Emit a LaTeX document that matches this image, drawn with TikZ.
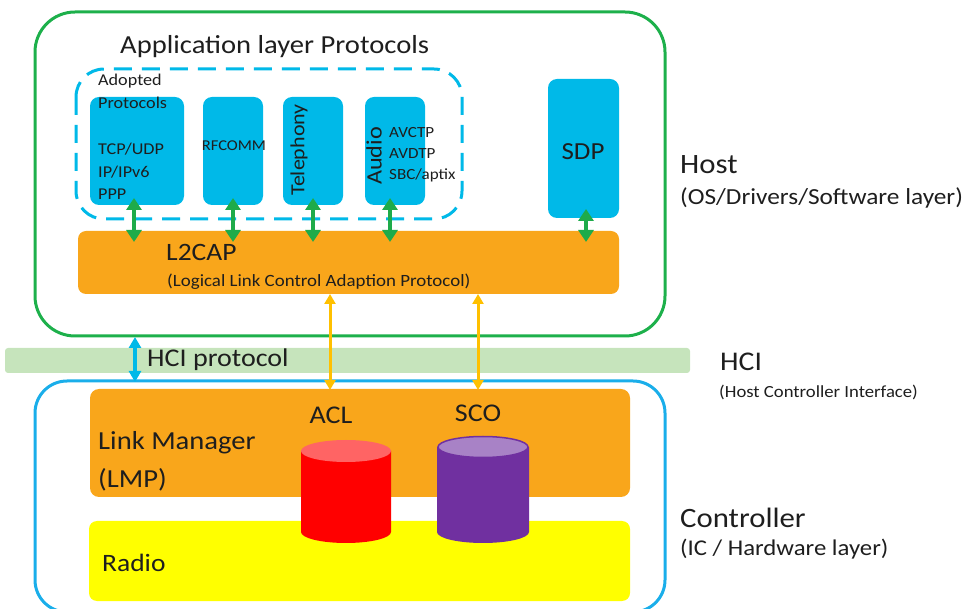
\documentclass[tikz,border=0pt]{standalone}
\usepackage{fontspec}
\setmainfont[FakeStretch=1.1]{Carlito}
\usetikzlibrary{arrows.meta}
\definecolor{hostgreen}{HTML}{1DB04B}
\definecolor{boxcyan}{HTML}{00B9E8}
\definecolor{ctrlblue}{HTML}{1AAEEA}
\definecolor{l2orange}{HTML}{F9A61B}
\definecolor{arrgreen}{HTML}{1EAB4A}
\definecolor{arryellow}{HTML}{FFC000}
\definecolor{hciband}{HTML}{C6E4BC}
\definecolor{radioyellow}{HTML}{FFFF00}
\definecolor{aclred}{HTML}{FF0000}
\definecolor{acltop}{HTML}{FF6464}
\definecolor{scopurple}{HTML}{7030A0}
\definecolor{scotop}{HTML}{A882C6}
\definecolor{txt}{HTML}{1E1E1E}
\tikzset{
  fs/.style={font=\fontsize{#1}{#1}\selectfont},
  protobox/.style={fill=boxcyan, rounded corners=9pt, draw=none},
  garrow/.style={draw=arrgreen, line width=3.5pt, {Triangle[width=15pt,length=12pt]}-{Triangle[width=15pt,length=12pt]}},
  yarrow/.style={draw=arryellow, line width=3pt, {Triangle[width=11pt,length=10pt]}-{Triangle[width=11pt,length=10pt]}},
  barrow/.style={draw=boxcyan, line width=3.2pt, {Triangle[width=12pt,length=11pt]}-{Triangle[width=12pt,length=11pt]}},
  lbl/.style={text=txt, inner sep=0pt},
}
\begin{document}
\begin{tikzpicture}[x=1pt,y=-1pt]
\useasboundingbox (0,0) rectangle (970,609);
% Host box
\draw[hostgreen, line width=3pt, rounded corners=40pt] (35,12) rectangle (665,336);
\node[lbl, fs=26, anchor=west] (apptitle) at (120,47) {Application layer Protocols};
% dashed group
\draw[boxcyan, line width=3pt, rounded corners=28pt, dash pattern=on 18pt off 10pt] (76,69) rectangle (462,219);
% proto boxes
\path[protobox] (90,97) rectangle (184,205);
\path[protobox] (203,97) rectangle (263,205);
\path[protobox] (283,97) rectangle (343,205);
\path[protobox] (365,97) rectangle (425,205);
\path[protobox] (548,79) rectangle (619,218);
\node[lbl, fs=16.5, anchor=west] (adopted) at (98,81) {Adopted};
\node[lbl, fs=16.5, anchor=west] (protocols) at (98,103) {Protocols};
\node[lbl, fs=16.5, anchor=west] (tcp) at (98,149) {TCP/UDP};
\node[lbl, fs=16.5, anchor=west] (ip) at (98,172) {IP/IPv6};
\node[lbl, fs=16.5, anchor=west] (ppp) at (98,194) {PPP};
\node[lbl, fs=15, anchor=center] (rfcomm) at (234,146) {RFCOMM};
\node[lbl, fs=20, rotate=90] (tel) at (299,150) {Telephony};
\node[lbl, fs=22, rotate=90] (audio) at (374,156) {Audio};
\node[lbl, fs=15.5, anchor=west] (avctp) at (389,133) {AVCTP};
\node[lbl, fs=15.5, anchor=west] (avdtp) at (389,154) {AVDTP};
\node[lbl, fs=15.5, anchor=west] (sbc) at (389,175) {SBC/aptix};
\node[lbl, fs=24.5] (sdp) at (583,152) {SDP};
% L2CAP
\path[fill=l2orange, rounded corners=8pt] (78,231) rectangle (619,294);
\node[lbl, fs=25, anchor=west] (l2cap) at (166,252) {L2CAP};
\node[lbl, fs=17.2, anchor=west] (l2capsub) at (167,282) {(Logical Link Control Adaption Protocol)};
% green arrows
\foreach \x/\y in {134/198, 233/198, 313/198, 390/198, 586/209}
  \draw[garrow] (\x,\y) -- (\x,242);
% HCI band
\path[fill=hciband, rounded corners=3pt] (5,348) rectangle (690,373);
\node[lbl, fs=25.5, anchor=west] (hcip) at (147,360) {HCI protocol};
% Controller box
\draw[ctrlblue, line width=3pt, rounded corners=32pt] (35,381) rectangle (665,612);
% LMP
\path[fill=l2orange, rounded corners=9pt] (90,389) rectangle (630,497);
\node[lbl, fs=26, anchor=west] (lmp) at (98,443) {Link Manager};
\node[lbl, fs=26, anchor=west] (lmp2) at (98,480) {(LMP)};
% Radio
\path[fill=radioyellow, rounded corners=8pt] (89,521) rectangle (630,601);
\node[lbl, fs=25, anchor=west] (radio) at (102,563) {Radio};
% arrows
\draw[barrow] (135,337) -- (135,382);
\draw[yarrow] (330,294) -- (330,390);
\draw[yarrow] (478,294) -- (478,390);
% ACL / SCO
\node[lbl, fs=25.5] (acl) at (331,415) {ACL};
\node[lbl, fs=25.5] (sco) at (478,413) {SCO};
% red cylinder
\path[fill=aclred] (301,451) -- (301,532) arc[start angle=180,end angle=360,x radius=45pt,y radius=11pt] -- (391,451) -- cycle;
\path[fill=acltop] (346,451) ellipse[x radius=45pt, y radius=11pt];
% purple cylinder
\path[fill=scopurple] (437,447) -- (437,532) arc[start angle=180,end angle=360,x radius=46pt,y radius=11pt] -- (529,447) -- cycle;
\draw[fill=scotop, draw=scopurple, line width=1.5pt] (483,447) ellipse[x radius=45pt, y radius=10.5pt];
% side labels
\node[lbl, fs=28, anchor=west] (host) at (680,165) {Host};
\node[lbl, fs=23, anchor=west] (hostsub) at (680,198) {(OS/Drivers/Software layer)};
\node[lbl, fs=27, anchor=west] (hci) at (720,362) {HCI};
\node[lbl, fs=17, anchor=west] (hcisub) at (719,392) {(Host Controller Interface)};
\node[lbl, fs=28, anchor=west] (ctrl) at (680,518) {Controller};
\node[lbl, fs=22.5, anchor=west] (ctrlsub) at (680,549) {(IC / Hardware layer)};
\end{tikzpicture}
\end{document}
